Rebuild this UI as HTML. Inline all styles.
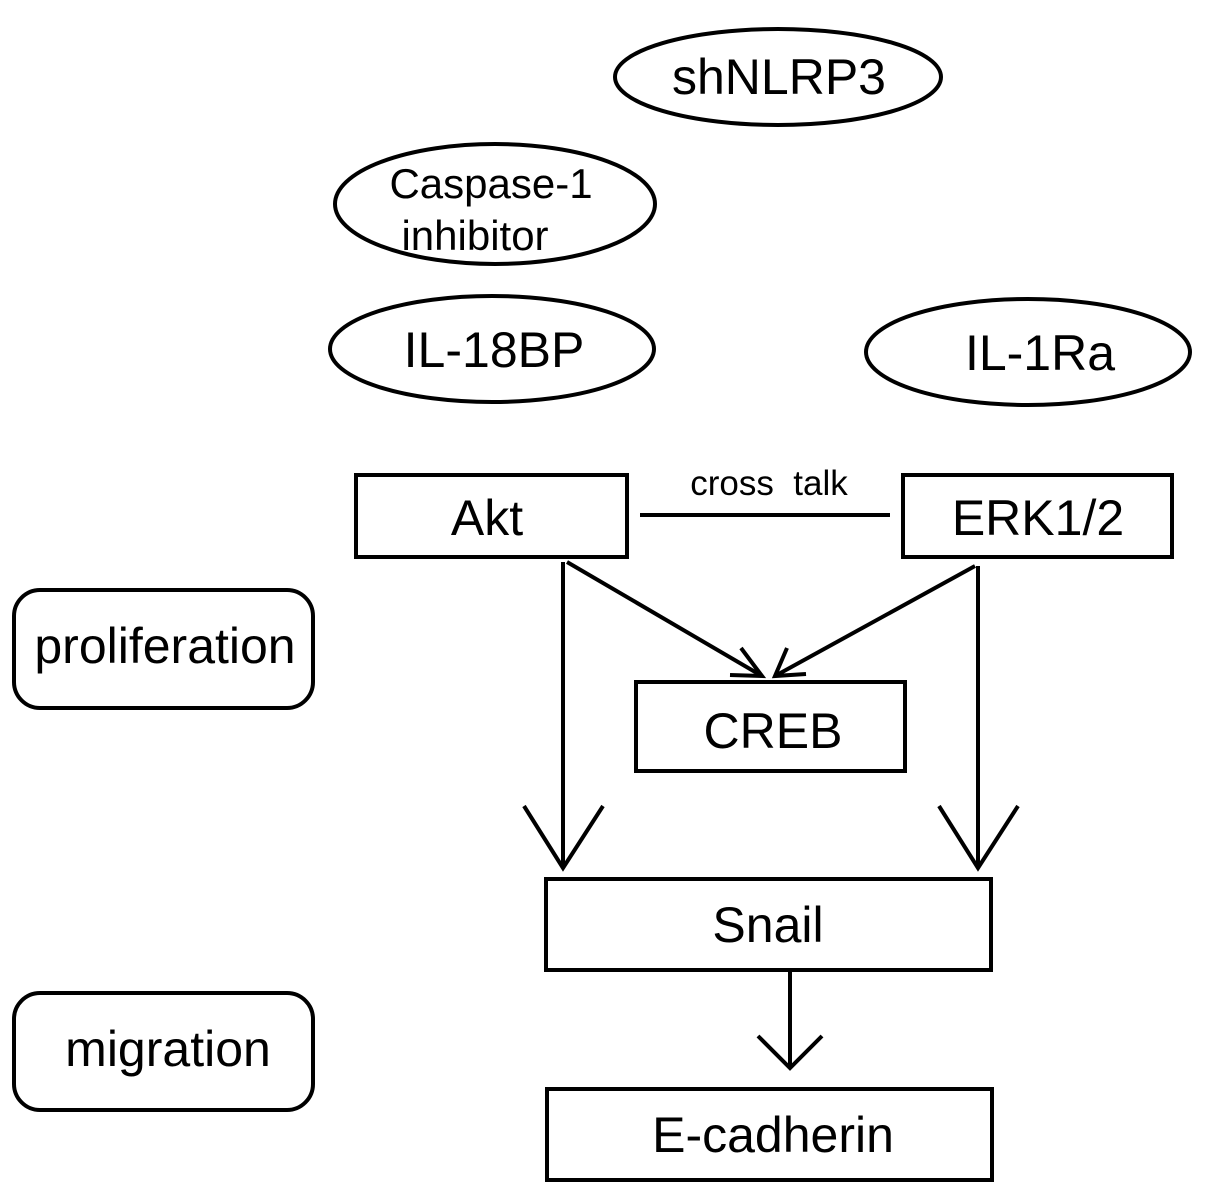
<!DOCTYPE html>
<html><head><meta charset="utf-8"><style>
html,body{margin:0;padding:0;background:#fff;}
svg{display:block;}
text{font-family:"Liberation Sans",Arial,sans-serif;fill:#000;}
</style></head><body>
<svg width="1205" height="1195" viewBox="0 0 1205 1195" xmlns="http://www.w3.org/2000/svg">
<g fill="none" stroke="#000" stroke-width="4">
<ellipse cx="778" cy="77" rx="163" ry="48"/>
<ellipse cx="495" cy="204" rx="160" ry="60"/>
<ellipse cx="492" cy="349" rx="162" ry="53"/>
<ellipse cx="1028" cy="352" rx="162" ry="53"/>
<rect x="356" y="475" width="271" height="82"/>
<rect x="903" y="475" width="269" height="82"/>
<line x1="640" y1="515" x2="890" y2="515"/>
<rect x="14" y="590" width="299" height="118" rx="26"/>
<rect x="636" y="682" width="269" height="89"/>
<rect x="546" y="879" width="445" height="91"/>
<rect x="14" y="993" width="299" height="117" rx="26"/>
<rect x="547" y="1089" width="445" height="91"/>
<line x1="563" y1="562" x2="563" y2="866"/>
<polyline points="524,806 563,868 603,806"/>
<line x1="567" y1="562" x2="762" y2="676"/>
<polyline points="741,648 762,676 730,675"/>
<line x1="978" y1="566" x2="978" y2="866"/>
<polyline points="939,806 978,868 1018,806"/>
<line x1="975" y1="566" x2="775" y2="676"/>
<polyline points="787,648 775,676 806,674"/>
<line x1="790" y1="970" x2="790" y2="1067"/>
<polyline points="758,1036 790,1068 822,1036"/>
</g>
<g font-size="50" text-anchor="middle">
<text x="779" y="94">shNLRP3</text>
<text x="494" y="367">IL-18BP</text>
<text x="1040" y="370">IL-1Ra</text>
<text x="487" y="535">Akt</text>
<text x="1038" y="535">ERK1/2</text>
<text x="165" y="663">proliferation</text>
<text x="773" y="748">CREB</text>
<text x="768" y="942">Snail</text>
<text x="168" y="1066">migration</text>
<text x="773" y="1152">E-cadherin</text>
</g>
<g font-size="42" text-anchor="middle">
<text x="491" y="198">Caspase-1</text>
<text x="475" y="250">inhibitor</text>
</g>
<text x="769" y="495" font-size="35" text-anchor="middle" xml:space="preserve">cross  talk</text>
</svg>
</body></html>
